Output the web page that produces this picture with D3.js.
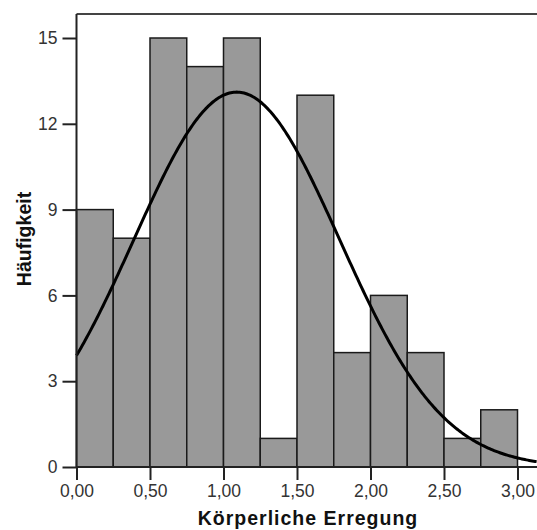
<!DOCTYPE html>
<html><head><meta charset="utf-8">
<script src="https://cdn.jsdelivr.net/npm/d3@7/dist/d3.min.js"></script>
<style>body{margin:0;background:#fff}svg{display:block}text{font-family:"Liberation Sans",Arial,sans-serif}</style>
</head><body>
<script>
const binStarts = [0, 0.25, 0.5, 0.75, 1.0, 1.25, 1.5, 1.75, 2.0, 2.25, 2.5, 2.75];
const binWidth = 0.25;
const counts = [9, 8, 15, 14, 15, 1, 13, 4, 6, 4, 1, 2];
const yTicks = [0, 3, 6, 9, 12, 15];
const xTicks = [0, 0.5, 1.0, 1.5, 2.0, 2.5, 3.0];
const fitMean = 1.09, fitSD = 0.70;
const xLabel = "Körperliche Erregung", yLabel = "Häufigkeit";

(function () {
const W = 537, H = 530;
const svg = d3.select("body").append("svg").attr("width", W).attr("height", H);
const pLeft = 76.5, pRight = 540, pTop = 14, pBottom = 467;
const x = d3.scaleLinear().domain([0, 3]).range([pLeft, 517.5]);
const y = d3.scaleLinear().domain([0, 15]).range([pBottom, 38]);

// frame
svg.append("line").attr("x1", pLeft).attr("x2", pRight).attr("y1", pTop).attr("y2", pTop)
  .attr("stroke", "#444").attr("stroke-width", 2);

// bars
svg.append("g").selectAll("rect").data(counts).join("rect")
  .attr("x", (d, i) => x(binStarts[i]))
  .attr("width", (d, i) => x(binStarts[i] + binWidth) - x(binStarts[i]))
  .attr("y", d => y(d))
  .attr("height", d => y(0) - y(d))
  .attr("fill", "#999999").attr("stroke", "#1a1a1a").attr("stroke-width", 1.5);

// normal curve
const N = d3.sum(counts);
const xs = d3.range(0, 3.14, 0.01);
const pdf = v => N * binWidth * Math.exp(-0.5 * ((v - fitMean) / fitSD) ** 2) / (fitSD * Math.sqrt(2 * Math.PI));
svg.append("path").datum(xs)
  .attr("d", d3.line().x(v => x(v)).y(v => y(pdf(v))))
  .attr("fill", "none").attr("stroke", "#000").attr("stroke-width", 3);

// axes
const yAxis = d3.axisLeft(y).tickValues(yTicks).tickSize(14).tickPadding(5).tickFormat(d3.format("d"));
const gy = svg.append("g").attr("transform", `translate(${pLeft},0)`).call(yAxis);
gy.select(".domain").attr("d", `M0,${pTop}V${pBottom}`).attr("stroke", "#222").attr("stroke-width", 2);
gy.selectAll(".tick line").attr("stroke", "#222").attr("stroke-width", 2);
gy.selectAll("text").attr("font-size", 17.5).attr("fill", "#333").attr("font-family", "Liberation Sans, Arial, sans-serif");

const fmt = v => d3.format(".2f")(v).replace(".", ",");
const xAxis = d3.axisBottom(x).tickValues(xTicks).tickSize(13).tickPadding(5).tickFormat(fmt);
const gx = svg.append("g").attr("transform", `translate(0,${pBottom})`).call(xAxis);
gx.select(".domain").attr("d", `M${pLeft},0H${pRight}`).attr("stroke", "#222").attr("stroke-width", 2);
gx.selectAll(".tick line").attr("stroke", "#222").attr("stroke-width", 2);
gx.selectAll("text").attr("font-size", 17.5).attr("fill", "#333").attr("font-family", "Liberation Sans, Arial, sans-serif");

svg.append("text").attr("x", 308).attr("y", 525).attr("text-anchor", "middle")
  .attr("font-size", 19.5).attr("font-weight", "bold").attr("letter-spacing", 1)
  .attr("fill", "#111").text(xLabel);
svg.append("text").attr("transform", "translate(31,239) rotate(-90)").attr("text-anchor", "middle")
  .attr("font-size", 19.5).attr("font-weight", "bold")
  .attr("fill", "#111").text(yLabel);
})();
</script>
</body></html>
